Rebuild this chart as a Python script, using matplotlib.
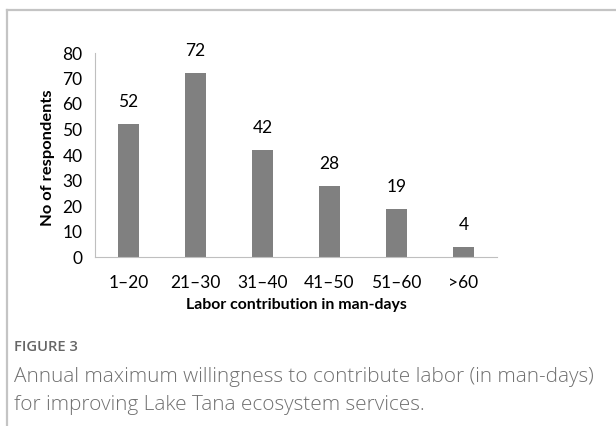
import matplotlib.pyplot as plt
from matplotlib.lines import Line2D

# Data
categories = ["1\u201320", "21\u201330", "31\u201340", "41\u201350", "51\u201360", ">60"]
respondents = [52, 72, 42, 28, 19, 4]
y_ticks = [0, 10, 20, 30, 40, 50, 60, 70, 80]

W, H = 616, 426
chart_font = ["Lato", "DejaVu Sans"]
caption_font = ["Open Sans", "DejaVu Sans"]

fig = plt.figure(figsize=(W / 100, H / 100), dpi=100)
fig.patch.set_facecolor("white")
renderer = fig.canvas.get_renderer()


def fit(txt, size_px, vertical=False):
    # scale the font so the text spans the wanted length
    bb = txt.get_window_extent(renderer)
    cur = bb.height if vertical else bb.width
    txt.set_fontsize(txt.get_fontsize() * size_px / cur)


# outer panel frame (left and top edges only visible)
fig.add_artist(Line2D([7 / W, 7 / W], [0, 1 - 10 / H], color="#c4c4c4", lw=1.6,
                      transform=fig.transFigure))
fig.add_artist(Line2D([7 / W, 1], [1 - 10 / H, 1 - 10 / H], color="#c4c4c4", lw=1.6,
                      transform=fig.transFigure))

ax = fig.add_axes([95 / W, 1 - 257 / H, (497 - 95) / W, (257 - 53) / H])
x = range(len(categories))
bars = ax.bar(x, respondents, width=0.31, color="#808080")
ax.set_xlim(-0.5, len(categories) - 0.5)
ax.set_ylim(0, 80)
ax.set_yticks(y_ticks)
ax.set_xticks(list(x))
ax.set_xticklabels(categories)

for b, v in zip(bars, respondents):
    ax.text(b.get_x() + b.get_width() / 2, v + 5.5, str(v), ha="center", va="bottom",
            fontsize=12.5, color="black", family=chart_font)

for s in ["top", "right"]:
    ax.spines[s].set_visible(False)
for s in ["left", "bottom"]:
    ax.spines[s].set_color("#bfbfbf")
    ax.spines[s].set_linewidth(0.8)
ax.tick_params(axis="both", length=0, labelsize=12.5, colors="black")
for lab in ax.get_xticklabels() + ax.get_yticklabels():
    lab.set_family(chart_font)
ax.tick_params(axis="y", pad=9)
ax.tick_params(axis="x", pad=13)

yl = fig.text(48 / W, 1 - 158 / H, "No of respondents", rotation=90, ha="center",
              va="center", fontsize=12, fontweight="bold", family=chart_font)
fit(yl, 136, vertical=True)
xl = fig.text(296 / W, 1 - 305 / H, "Labor contribution in man-days", ha="center",
              va="center", fontsize=12, fontweight="bold", family=chart_font)
fit(xl, 220)

fg = fig.text(14 / W, 1 - 347 / H, "FIGURE 3", fontsize=10, color="#666666",
              va="center", ha="left", family=caption_font, fontweight="semibold")
fit(fg, 64)
c1 = fig.text(14 / W, 1 - 377 / H,
              "Annual maximum willingness to contribute labor (in man-days)",
              fontsize=12, color="#707070", va="center", ha="left", family=caption_font,
              fontweight="light")
fit(c1, 580)
c2 = fig.text(14 / W, 1 - 405 / H, "for improving Lake Tana ecosystem services.",
              fontsize=c1.get_fontsize(), color="#707070", va="center", ha="left",
              family=caption_font, fontweight="light")

fig.savefig("out.png", dpi=100)
